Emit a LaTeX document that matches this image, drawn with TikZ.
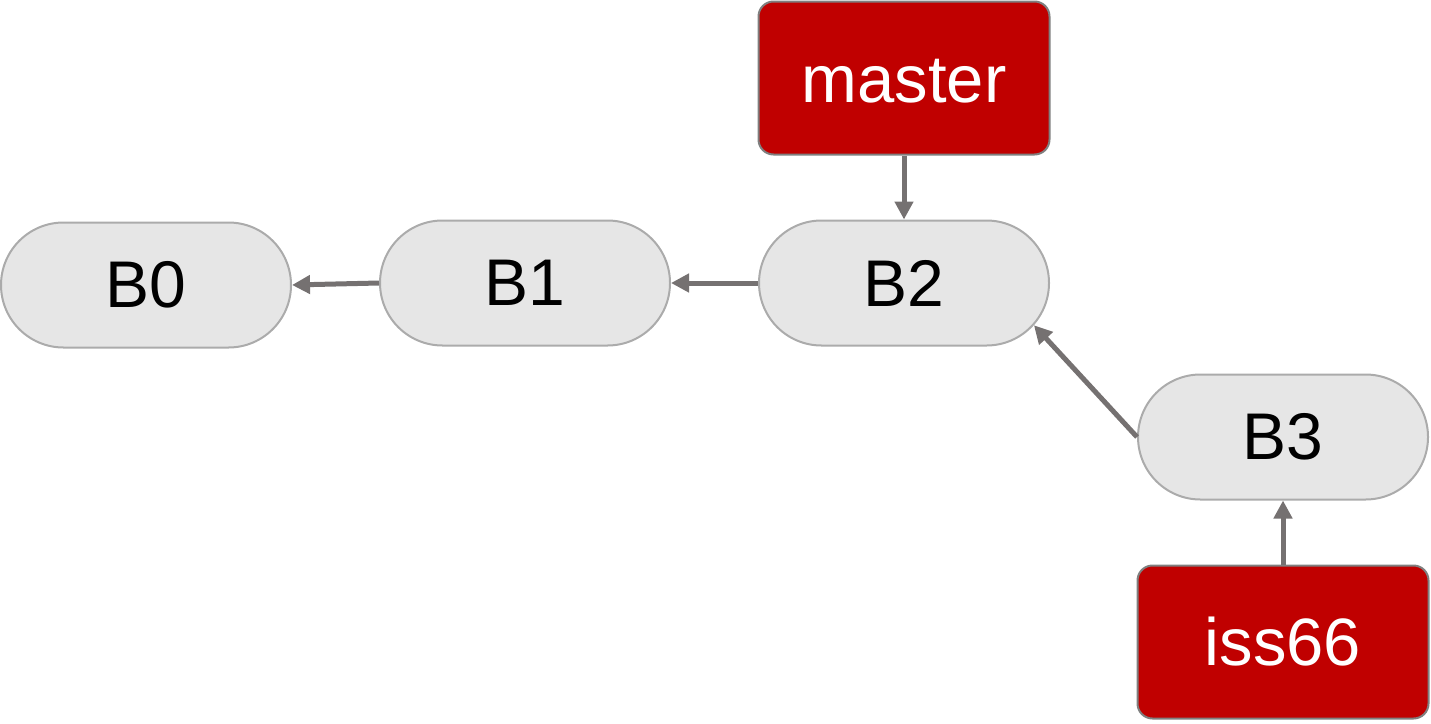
\documentclass[tikz,border=0pt]{standalone}
\usepackage{fontspec}
\setmainfont{Liberation Sans}
\usetikzlibrary{arrows.meta,shapes.misc}
\definecolor{pillfill}{HTML}{E6E6E6}
\definecolor{pillline}{HTML}{ABABAB}
\definecolor{refred}{HTML}{C00000}
\definecolor{refline}{HTML}{7F7F7F}
\definecolor{arrowcol}{HTML}{757171}
\begin{document}
\begin{tikzpicture}[x=1pt,y=-1pt,
  commit/.style={rounded rectangle, draw=pillline, fill=pillfill, line width=2pt,
    minimum width=290pt, minimum height=125pt, inner sep=0pt,
    font=\fontsize{66}{79}\selectfont, text=black},
  branch/.style={rectangle, rounded corners=15pt, draw=refline, fill=refred, line width=2pt,
    minimum width=291pt, minimum height=153pt, inner sep=0pt,
    font=\fontsize{67}{80}\selectfont, text=white},
  link/.style={draw=arrowcol, line width=5pt, -{Triangle[length=18pt,width=18pt]}}]
\useasboundingbox (0,0) rectangle (1431,723);
\node[commit] (B0) at (146,285) {B0};
\node[commit] (B1) at (525,283) {B1};
\node[commit] (B2) at (904,283) {B2};
\node[commit] (B3) at (1283,437) {B3};
\node[branch] (master) at (904,78) {\raisebox{-24pt}[0pt][0pt]{master}};
\node[branch] (iss66) at (1283,642) {iss66};
\draw[link] (B1.west) -- (B0.east);
\draw[link] (B2.west) -- (B1.east);
\draw[link] (master.south) -- (B2.north);
\draw[link] (B3.west) -- (B2.-18);
\draw[link] (iss66.north) -- (B3.south);
\end{tikzpicture}
\end{document}
